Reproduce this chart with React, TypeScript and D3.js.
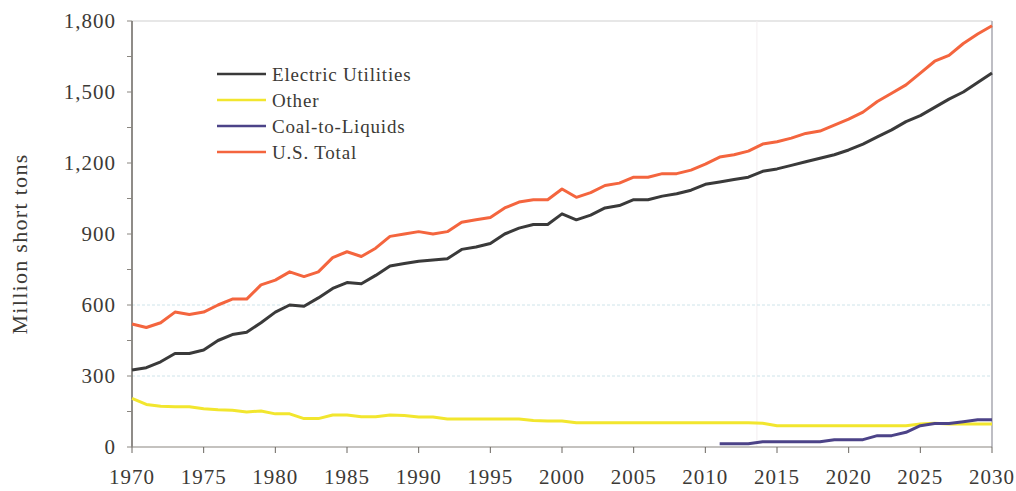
import React from "react";
import * as d3 from "d3";

const years = d3.range(1970, 2031);

const electricUtilities = [
  325, 335, 360, 395, 395, 410, 450, 475, 485, 525,
  570, 600, 595, 630, 670, 695, 690, 725, 765, 775,
  785, 790, 795, 835, 845, 860, 900, 925, 940, 940,
  985, 960, 980, 1010, 1020, 1045, 1045, 1060, 1070, 1085,
  1110, 1120, 1130, 1140, 1165, 1175, 1190, 1205, 1220, 1235,
  1255, 1280, 1310, 1340, 1375, 1400, 1435, 1470, 1500, 1540,
  1580,
];

const other = [
  205, 180, 172, 170, 170, 162, 157, 155, 148, 152,
  140, 140, 120, 120, 135, 135, 128, 128, 135, 133,
  127, 127, 118, 118, 118, 118, 118, 118, 112, 110,
  110, 102, 102, 102, 102, 102, 102, 102, 102, 102,
  102, 102, 102, 102, 100, 90, 90, 90, 90, 90,
  90, 90, 90, 90, 90, 97, 100, 97, 97, 97,
  97,
];

// coal-to-liquids only starts in 2011
const coalToLiquids: (number | null)[] = [
  ...Array(41).fill(null),
  14, 14, 14, 22, 22, 22, 22, 22, 31, 31,
  31, 48, 48, 62, 90, 99, 99, 107, 115, 115,
];

const usTotal = [
  520, 505, 525, 570, 560, 570, 600, 625, 625, 685,
  705, 740, 720, 740, 800, 825, 805, 840, 890, 900,
  910, 900, 910, 950, 960, 970, 1010, 1035, 1045, 1045,
  1090, 1055, 1075, 1105, 1115, 1140, 1140, 1155, 1155, 1170,
  1195, 1225, 1235, 1250, 1280, 1290, 1305, 1325, 1335, 1360,
  1385, 1415, 1460, 1495, 1530, 1580, 1630, 1655, 1705, 1745,
  1780,
];

const yTicks = [0, 300, 600, 900, 1200, 1500, 1800];
const xTicks = d3.range(1970, 2031, 5);

const series = [
  { name: "Electric Utilities", values: electricUtilities, color: "#3a3a3a" },
  { name: "Other", values: other, color: "#f2e62e" },
  { name: "Coal-to-Liquids", values: coalToLiquids, color: "#4c4388" },
  { name: "U.S. Total", values: usTotal, color: "#f4653e" },
];

const font = "'Liberation Serif', 'Times New Roman', serif";

export default function App() {
  const x = d3.scaleLinear().domain([1970, 2030]).range([132, 992]);
  const y = d3.scaleLinear().domain([0, 1800]).range([447, 21]);

  const line = d3
    .line<number | null>()
    .defined((d) => d != null)
    .x((_, i) => x(years[i]))
    .y((d) => y(d as number));

  return (
    <svg
      width={1016}
      height={491}
      style={{ position: "absolute", left: 0, top: 0, background: "#fff" }}
    >
      {/* frame */}
      <line x1={x(1970)} x2={x(2030)} y1={y(1800)} y2={y(1800)} stroke="#cfcfcf" strokeWidth={1} />
      <line x1={x(2030)} x2={x(2030)} y1={y(1800)} y2={y(0)} stroke="#a8a8b0" strokeWidth={1.5} />
      <line x1={x(2013.6)} x2={x(2013.6)} y1={y(1800)} y2={y(0)} stroke="#f3eef0" strokeWidth={1} />

      {/* gridlines */}
      {[300, 600].map((t) => (
        <line
          key={t}
          x1={x(1970)}
          x2={x(2030)}
          y1={y(t)}
          y2={y(t)}
          stroke="#cfe4ea"
          strokeWidth={1}
          strokeDasharray="3,2"
        />
      ))}

      {/* y axis */}
      <line x1={x(1970)} x2={x(1970)} y1={y(1800)} y2={y(0)} stroke="#6a6660" strokeWidth={1.5} />
      {d3.range(0, 1801, 150).map((t) => (
        <line key={t} x1={x(1970) - 5} x2={x(1970)} y1={y(t)} y2={y(t)} stroke="#8a8680" strokeWidth={1} />
      ))}
      {yTicks.map((t) => (
        <text
          key={t}
          x={116}
          y={y(t)}
          dy="0.35em"
          textAnchor="end"
          fontFamily={font}
          fontSize={21}
          letterSpacing={1}
          fill="#3c3a36"
        >
          {d3.format(",")(t)}
        </text>
      ))}
      <text
        transform={`translate(27,${244}) rotate(-90)`}
        textAnchor="middle"
        fontFamily={font}
        fontSize={22}
        letterSpacing={1.3}
        fill="#3c3a36"
      >
        Million short tons
      </text>

      {/* x axis */}
      <line x1={x(1970)} x2={x(2030)} y1={y(0)} y2={y(0)} stroke="#8a8680" strokeWidth={1.2} />
      {xTicks.map((t) => (
        <g key={t}>
          <line x1={x(t)} x2={x(t)} y1={y(0)} y2={y(0) + 6} stroke="#6a6660" strokeWidth={1} />
          <text
            x={x(t)}
            y={484}
            textAnchor="middle"
            fontFamily={font}
            fontSize={21}
            letterSpacing={1}
            fill="#3c3a36"
          >
            {t}
          </text>
        </g>
      ))}

      {/* series */}
      {series.map((s) => (
        <path
          key={s.name}
          d={line(s.values as (number | null)[]) || ""}
          fill="none"
          stroke={s.color}
          strokeWidth={3}
          strokeLinejoin="round"
        />
      ))}

      {/* legend */}
      {series.map((s, i) => (
        <g key={s.name} transform={`translate(217,${74 + i * 26})`}>
          <line x1={0} x2={49} y1={0} y2={0} stroke={s.color} strokeWidth={2.5} />
          <text
            x={55}
            y={0}
            dy="0.35em"
            fontFamily={font}
            fontSize={19}
            letterSpacing={0.8}
            fill="#3c3a36"
          >
            {s.name}
          </text>
        </g>
      ))}
    </svg>
  );
}
